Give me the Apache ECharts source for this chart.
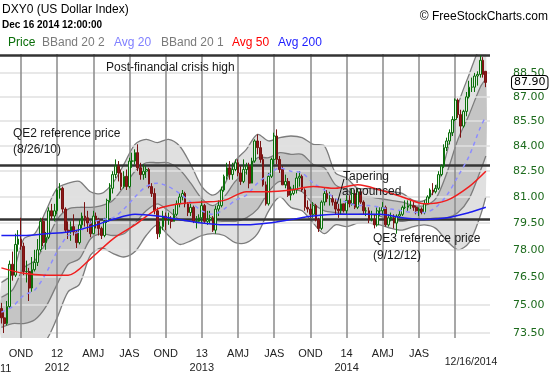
<!DOCTYPE html>
<html><head><meta charset="utf-8">
<script src="https://cdn.jsdelivr.net/npm/echarts@6/dist/echarts.min.js"></script>
<style>html,body{margin:0;padding:0;background:#fff;}#c{width:550px;height:375px;}</style>
</head><body><div id="c"></div>
<script>
// ---- categories: weekly bars (Mondays) from 2011-08-15, plus one empty slot ----
const firstWeek = '2011-08-15';
const weekSlots = 176;
const dates = [];
(function(){const t0=Date.parse(firstWeek+'T00:00:00Z');for(let k=0;k<weekSlots;k++){dates.push(new Date(t0+k*604800000).toISOString().slice(0,10));}})();

// ---- weekly candles [open, close, low, high] ----
const ohlc2011 = [
[74.8,74.3,74.0,75.1],[74.3,74.0,73.5,74.6],[74.0,74.9,73.9,75.2],[74.9,77.2,74.8,77.4],[77.2,76.6,76.3,77.9],
[76.6,78.3,76.5,78.9],[78.3,78.6,77.9,79.1],[78.6,78.2,78.0,79.8],[78.2,76.8,76.6,78.4],[76.8,76.8,76.2,77.4],
[76.8,75.9,75.2,77.0],[75.9,76.9,75.7,77.6],[76.9,77.3,76.8,78.0],[77.3,78.0,77.1,78.6],[78.0,79.6,77.9,79.8],
[79.6,78.4,78.2,79.8],[78.4,78.7,78.0,79.0],[78.7,80.2,78.6,80.4],[80.2,79.9,79.7,80.6],[79.9,80.2,79.6,80.6]];
const ohlc2012 = [
[80.2,81.4,80.0,81.5],[81.4,81.5,80.9,81.8],[81.5,80.3,80.1,81.6],[80.3,79.1,79.0,80.4],[79.1,79.0,78.6,79.6],
[79.0,79.3,78.5,79.6],[79.3,79.0,78.8,80.0],[79.0,78.4,78.1,79.1],[78.4,79.4,78.3,79.7],[79.4,79.9,79.2,80.1],
[79.9,79.8,79.3,80.7],[79.8,79.5,79.0,80.2],[79.5,78.9,78.7,79.6],[78.9,79.9,78.9,80.2],[79.9,79.7,79.2,80.1],
[79.7,79.2,78.8,79.8],[79.2,78.8,78.6,79.3],[78.8,79.6,78.7,79.8],[79.6,80.8,79.5,80.9],[80.8,81.5,80.7,81.8],
[81.5,82.3,81.2,82.5],[82.3,82.8,82.1,83.2],[82.8,82.4,81.9,83.1],[82.4,81.6,81.4,82.6],[81.6,82.2,81.5,82.5],
[82.2,81.6,81.4,82.6],[81.6,83.1,81.5,83.3],[83.1,83.1,82.7,83.6],[83.1,83.6,82.9,83.8],[83.6,82.7,82.5,84.1],
[82.7,82.3,82.0,83.0],[82.3,82.5,82.0,82.9],[82.5,82.6,82.1,82.8],[82.6,81.6,81.5,82.7],[81.6,81.2,81.0,81.8],
[81.2,80.2,80.0,81.5],[80.2,78.9,78.6,80.4],[78.9,79.3,78.7,79.6],[79.3,79.9,79.1,80.2],[79.9,79.7,79.1,80.1],
[79.7,79.7,79.4,80.1],[79.7,79.6,79.2,79.9],[79.6,80.0,79.6,80.3],[80.0,80.6,79.9,80.8],[80.6,81.0,80.4,81.2],
[81.0,81.2,80.8,81.4],[81.2,80.6,80.4,81.3],[80.6,80.1,79.9,80.7],[80.1,80.4,79.9,80.6],[80.4,79.6,79.5,80.5],
[79.6,79.6,79.2,79.9],[79.6,79.8,79.5,80.0]];
const ohlc2013 = [
[79.8,80.5,79.5,80.8],[80.5,79.6,79.5,80.6],[79.6,79.7,79.4,80.2],[79.7,79.8,79.5,80.2],[79.8,79.1,79.0,79.9],
[79.1,80.3,78.9,80.5],[80.3,80.5,79.9,80.8],[80.5,81.4,80.4,81.6],[81.4,82.2,81.3,82.3],[82.2,82.7,82.0,83.0],
[82.7,82.3,82.0,83.1],[82.3,82.6,82.0,83.0],[82.6,83.0,82.5,83.2],[83.0,82.4,82.2,83.2],[82.4,81.9,81.7,82.8],
[81.9,82.6,81.8,83.2],[82.6,82.8,82.3,83.0],[82.8,81.8,81.5,83.0],[81.8,83.1,81.8,83.3],[83.1,84.3,83.0,84.4],
[84.3,83.9,83.5,84.7],[83.9,83.2,83.0,84.3],[83.2,81.7,81.6,83.5],[81.7,80.6,80.5,81.9],[80.6,82.2,80.5,82.4],
[82.2,83.2,82.1,83.3],[83.2,84.6,82.9,84.8],[84.6,83.2,82.9,85.0],[83.2,82.6,82.4,83.4],[82.6,81.7,81.7,82.8],
[81.7,81.9,81.5,82.3],[81.9,81.1,81.0,82.1],[81.1,81.2,80.8,81.6],[81.2,81.4,81.1,81.7],[81.4,82.1,81.2,82.4],
[82.1,82.2,81.6,82.5],[82.2,81.4,81.3,82.3],[81.4,80.4,80.2,81.5],[80.4,80.3,80.1,80.8],[80.3,80.0,79.8,80.6],
[80.0,80.5,79.8,80.7],[80.5,79.7,79.6,80.6],[79.7,79.2,79.0,79.8],[79.2,80.7,79.1,80.8],[80.7,81.2,80.5,81.5],
[81.2,80.9,80.7,81.4],[80.9,80.9,80.5,81.3],[80.9,80.7,80.5,81.1],[80.7,80.3,80.0,80.9],[80.3,80.2,79.8,80.6],
[80.2,80.6,80.0,80.9],[80.6,80.2,80.1,80.6]];
const ohlc2014 = [
[80.2,80.8,80.0,81.1],[80.8,80.6,80.4,81.1],[80.6,81.2,80.5,81.5],[81.2,80.4,80.3,81.4],[80.4,81.3,80.3,81.5],
[81.3,80.7,80.6,81.4],[80.7,80.2,80.0,80.8],[80.2,80.2,79.9,80.4],[80.2,79.7,79.5,80.4],[79.7,79.7,79.6,80.2],
[79.7,79.4,79.2,80.0],[79.4,80.2,79.3,80.4],[80.2,80.2,79.9,80.4],[80.2,80.4,80.0,80.7],[80.4,79.4,79.3,80.5],
[79.4,79.8,79.3,80.0],[79.8,79.8,79.6,80.1],[79.8,79.5,79.2,80.0],[79.5,79.9,78.9,80.0],[79.9,80.0,79.8,80.2],
[80.0,80.4,79.9,80.5],[80.4,80.4,80.3,80.8],[80.4,80.5,80.2,80.8],[80.5,80.5,80.3,80.8],[80.5,80.4,80.2,80.7],
[80.4,80.2,80.0,80.5],[80.2,80.3,79.9,80.4],[80.3,80.1,80.0,80.4],[80.1,80.6,80.0,80.8],[80.6,81.0,80.6,81.1],
[81.0,81.4,80.9,81.5],[81.4,81.3,81.1,81.8],[81.3,81.5,81.2,81.7],[81.5,82.3,81.4,82.5],[82.3,82.8,82.2,82.9],
[82.8,83.9,82.7,84.1],[83.9,84.3,83.7,84.5],[84.3,84.8,84.1,85.0],[84.8,85.6,84.6,85.8],[85.6,86.8,85.5,86.9],
[86.8,85.9,85.7,86.9],[85.9,85.2,84.5,86.2],[85.2,86.1,85.1,86.2],[86.1,87.0,85.8,87.3],[87.0,87.6,86.9,88.0],
[87.6,87.6,87.3,88.2],[87.6,88.3,87.3,88.5],[88.3,88.4,87.7,88.6],[88.4,89.3,88.2,89.6],[89.3,88.4,88.2,89.5],
[88.6,87.9,87.6,88.6]];

// ---- Bollinger bands (20,2) and (20,1) and the 20-week average, read every 4 weeks ----
const bandIdx = [0,4,8,12,16,20,24,28,32,36,40,44,48,52,56,60,64,68,72,76,80,84,88,92,96,100,104,108,112,116,120,124,128,132,136,140,144,148,152,156,160,164,168,172,174];
const bbUpper2 = [76.2,76.7,78.6,78.9,80.2,81.5,81.8,81.9,81.3,81.2,81.8,82.9,84.1,84.4,84.2,84.4,84.0,82.9,81.6,81.1,81.7,83.1,83.8,84.7,84.3,84.5,84.6,84.5,84.1,84.0,82.4,82.1,81.5,81.5,81.4,81.3,81.2,80.8,80.8,81.5,83.6,86.5,88.4,90.2,90.5];
const bbUpper1 = [75.4,75.8,77.0,77.4,78.4,79.7,80.3,80.4,80.4,80.5,80.8,81.6,82.5,83.0,83.0,83.0,82.6,81.8,80.9,80.5,81.0,81.9,82.5,83.3,83.3,83.6,83.5,83.5,82.9,82.7,81.7,81.4,81.0,81.0,80.9,80.8,80.7,80.5,80.5,80.9,82.4,84.4,85.9,87.6,88.1];
const avg20 =    [74.6,74.9,75.5,75.8,76.7,77.9,78.8,79.0,79.5,79.7,79.8,80.3,81.0,81.6,81.8,81.6,81.2,80.7,80.2,80.0,80.3,80.8,81.1,81.8,82.3,82.7,82.5,82.4,81.8,81.4,80.9,80.7,80.5,80.5,80.4,80.3,80.2,80.1,80.1,80.4,81.1,82.2,83.4,85.1,85.8];
const bbLower1 = [73.8,74.0,74.0,74.2,74.9,76.1,77.2,77.5,78.6,78.9,78.8,78.9,79.5,80.2,80.6,80.2,79.7,79.6,79.5,79.5,79.6,79.6,79.8,80.3,81.3,81.9,81.5,81.3,80.6,80.2,80.1,80.0,80.0,80.0,79.9,79.7,79.6,79.7,79.7,79.8,79.8,80.1,80.9,82.5,83.4];
const bbLower2 = [73.0,73.1,72.4,72.7,73.1,74.3,75.7,76.1,77.7,78.1,77.8,77.6,77.9,78.8,79.4,78.8,78.3,78.5,78.8,78.9,78.8,78.4,78.4,78.9,80.2,81.0,80.4,80.2,79.5,78.9,79.4,79.3,79.5,79.5,79.4,79.2,79.1,79.3,79.4,79.2,78.5,78.0,78.4,79.9,81.0];

// ---- 50 and 200 week averages, read every 8 weeks ----
const maIdx = [0,8,16,24,32,40,48,56,64,72,80,88,96,104,112,120,128,136,144,152,160,168,174];
const avg50 =  [77.0,76.7,76.6,76.6,77.5,78.6,79.4,80.3,80.6,80.7,80.8,81.3,81.3,81.4,81.6,81.5,81.7,81.4,81.0,80.6,80.8,81.6,82.5];
const avg200 = [78.8,78.8,78.9,79.0,79.3,79.7,80.0,79.9,79.7,79.5,79.4,79.4,79.5,79.7,79.9,80.0,80.0,80.0,79.8,79.7,79.8,80.1,80.4];

// ---- reference levels, ticks ----
const refLevels = [89.62, 82.85, 79.71];
const lastPrice = 87.90;
const yTicks = [73.5,75,76.5,78,79.5,81,82.5,84,85.5,87,88.5];
const quarterStarts = ['2011-10-03','2012-01-02','2012-04-02','2012-07-02','2012-10-01','2012-12-31','2013-04-01','2013-07-01','2013-09-30','2013-12-30','2014-03-31','2014-06-30','2014-09-29'];
const quarterLabels = ['OND','12','AMJ','JAS','OND','13','AMJ','JAS','OND','14','AMJ','JAS',''];
const yearLabels = ['11','2012','','','','2013','','','','2014','','',''];

const candles = ohlc2011.concat(ohlc2012, ohlc2013, ohlc2014);
const qMap = {}; quarterStarts.forEach((d,k)=>{qMap[d]=k;});

const FONT = '"Liberation Sans", Arial, sans-serif';
const VFONT = '"DejaVu Sans", Verdana, sans-serif';
const GREEN_LBL = '#1d6b1d';

function bandSeries(up, lo, fill, z){
  return {type:'custom', z:z, silent:true, clip:true, data:[[0,80]],
    renderItem:function(params, api){
      const top = bandIdx.map((ix,k)=>api.coord([ix, up[k]]));
      const bot = bandIdx.map((ix,k)=>api.coord([ix, lo[k]]));
      const botR = bot.slice().reverse();
      return {type:'group', children:[
        {type:'polygon', shape:{points: top.concat(botR), smooth:0.3}, style:{fill:fill, stroke:null}},
        {type:'polyline', shape:{points: top, smooth:0.3}, style:{stroke:'#7c7c7c', lineWidth:1.3, fill:null}},
        {type:'polyline', shape:{points: bot, smooth:0.3}, style:{stroke:'#7c7c7c', lineWidth:1.3, fill:null}}
      ]};
    }};
}
function maSeries(idx, vals, color, dashed, z){
  return {type:'line', z:z, silent:true, symbol:'none', smooth:0.3,
    data: idx.map((ix,k)=>[ix, vals[k]]),
    lineStyle:{color:color, width:1.5, type: dashed ? [4,4] : 'solid'}};
}

const hGrid = yTicks.map(v=>({yAxis:v, lineStyle:{color:'#e0e0e0', width:1.5, type:'solid'},
  label:{show:true, position:'end', distance:23, formatter:v.toFixed(2), color:GREEN_LBL, fontFamily:VFONT, fontSize:11}}));
const vGrid = quarterStarts.map(d=>({xAxis:d, lineStyle:{color:'#8a8a8a', width:1.5, type:'solid'}, label:{show:false}}));

const option = {
  animation:false,
  grid:{left:0, right:60, top:54, bottom:35, containLabel:false},
  xAxis:{type:'category', data:dates, boundaryGap:true,
    axisLine:{show:false}, axisTick:{show:false}, splitLine:{show:false},
    axisLabel:{interval:function(i, v){return qMap[v]!==undefined;},
      formatter:function(v){const k=qMap[v]; if(k===undefined) return ''; return quarterLabels[k] + (k>0 && yearLabels[k] ? '\n'+yearLabels[k] : '');},
      color:'#222', fontFamily:FONT, fontSize:11, lineHeight:14, margin:9}},
  yAxis:{type:'log', logBase:10, min:73.24, max:89.70, axisLine:{show:false}, axisTick:{show:false}, axisLabel:{show:false}, splitLine:{show:false}},
  series:[
    {type:'line', z:1, silent:true, data:[], markLine:{silent:true, symbol:['none','none'], animation:false, data: hGrid.concat(vGrid)}},
    bandSeries(bbUpper2, bbLower2, 'rgba(0,0,0,0.12)', 2),
    bandSeries(bbUpper1, bbLower1, 'rgba(0,0,0,0.12)', 3),
    {type:'line', z:4, silent:true, data:[], markLine:{silent:true, symbol:['none','none'], animation:false,
      data: refLevels.map(v=>({yAxis:v, lineStyle:{color:'#333', width:2.5, type:'solid'}, label:{show:false}}))}},
    {type:'candlestick', z:5, silent:true, data:candles, barWidth:2.2,
      itemStyle:{color:'#e2f2e2', color0:'#8b1a1a', borderColor:'#0a6e0a', borderColor0:'#7a1212', borderWidth:1}},
    maSeries(bandIdx, avg20, '#8c8cff', true, 6),
    maSeries(maIdx, avg50, '#f01e1e', false, 6),
    maSeries(maIdx, avg200, '#1c1cf0', false, 6),
    {type:'line', z:7, silent:true, data:[], markLine:{silent:true, symbol:['none','none'], animation:false,
      data:[{yAxis:lastPrice, lineStyle:{color:'rgba(0,0,0,0)', width:0}, label:{show:true, position:'end', distance:22, formatter:lastPrice.toFixed(2),
        color:'#000', fontFamily:VFONT, fontSize:11, backgroundColor:'#fff', borderColor:'#000', borderWidth:1, borderRadius:3, padding:[1,2,1,2]}}]}}
  ],
  graphic:[
    {type:'text', x:2, y:10, style:{text:'DXY0 (US Dollar Index)', font:'12px '+FONT, fill:'#000', verticalAlign:'middle'}},
    {type:'text', x:2, y:25, style:{text:'Dec 16 2014 12:00:00', font:'bold 10px '+FONT, fill:'#000', verticalAlign:'middle'}},
    {type:'text', x:548, y:17, style:{text:'\u00a9 FreeStockCharts.com', font:'12px '+FONT, fill:'#000', align:'right', verticalAlign:'middle'}},
    {type:'text', x:8, y:43, style:{text:'Price', font:'12px '+FONT, fill:'#0a6e0a', verticalAlign:'middle'}},
    {type:'text', x:42, y:43, style:{text:'BBand 20 2', font:'12px '+FONT, fill:'#7a7a7a', verticalAlign:'middle'}},
    {type:'text', x:114, y:43, style:{text:'Avg 20', font:'12px '+FONT, fill:'#7f7fff', verticalAlign:'middle'}},
    {type:'text', x:161, y:43, style:{text:'BBand 20 1', font:'12px '+FONT, fill:'#7a7a7a', verticalAlign:'middle'}},
    {type:'text', x:232, y:43, style:{text:'Avg 50', font:'12px '+FONT, fill:'#ff0000', verticalAlign:'middle'}},
    {type:'text', x:278, y:43, style:{text:'Avg 200', font:'12px '+FONT, fill:'#1c1cff', verticalAlign:'middle'}},
    {type:'text', x:106, y:68, z:10, style:{text:'Post-financial crisis high', font:'12px '+FONT, fill:'#1a1a1a', verticalAlign:'middle'}},
    {type:'text', x:13, y:134, z:10, style:{text:'QE2 reference price', font:'12px '+FONT, fill:'#1a1a1a', verticalAlign:'middle'}},
    {type:'text', x:13, y:150, z:10, style:{text:'(8/26/10)', font:'12px '+FONT, fill:'#1a1a1a', verticalAlign:'middle'}},
    {type:'text', x:343, y:177, z:10, style:{text:'Tapering', font:'12px '+FONT, fill:'#1a1a1a', verticalAlign:'middle'}},
    {type:'text', x:342, y:192, z:10, style:{text:'announced', font:'12px '+FONT, fill:'#1a1a1a', verticalAlign:'middle'}},
    {type:'line', z:10, shape:{x1:344, y1:179, x2:337, y2:204}, style:{stroke:'#111', lineWidth:1}},
    {type:'text', x:373, y:239, z:10, style:{text:'QE3 reference price', font:'12px '+FONT, fill:'#1a1a1a', verticalAlign:'middle'}},
    {type:'text', x:373, y:256, z:10, style:{text:'(9/12/12)', font:'12px '+FONT, fill:'#1a1a1a', verticalAlign:'middle'}},
    {type:'text', x:0, y:369, style:{text:yearLabels[0], font:'11px '+FONT, fill:'#222', verticalAlign:'middle'}},
    {type:'text', x:471, y:362, style:{text:'12/16/2014', font:'10.5px '+FONT, fill:'#222', align:'center', verticalAlign:'middle'}}
  ]
};
const chart = echarts.init(document.getElementById('c'));
chart.setOption(option);
</script></body></html>
